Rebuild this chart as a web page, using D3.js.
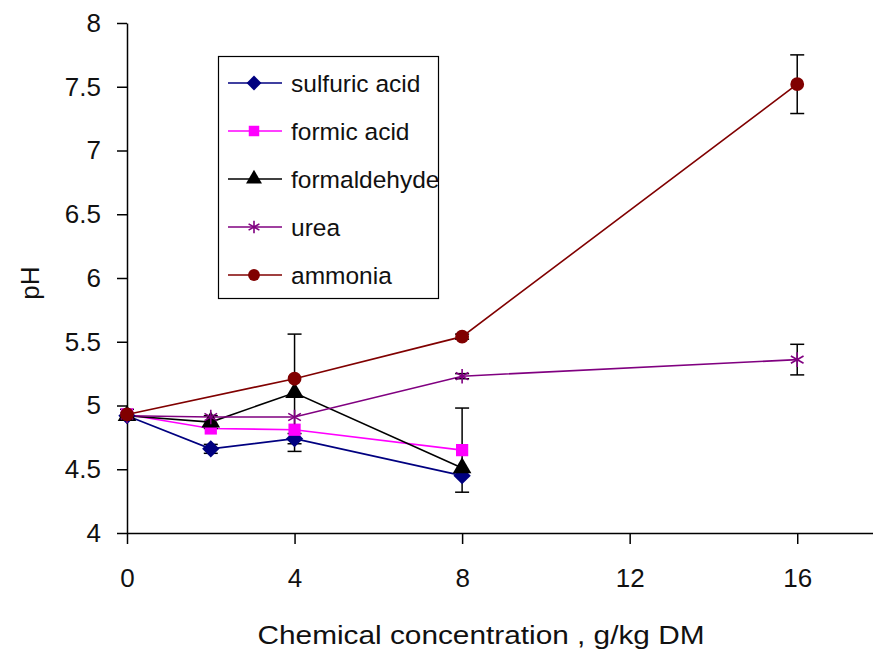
<!DOCTYPE html>
<html>
<head>
<meta charset="utf-8">
<script src="https://cdn.jsdelivr.net/npm/d3@7"></script>
<style>
  body { margin: 0; background: #fff; }
  text { font-family: "Liberation Sans", Arial, sans-serif; fill: #111; }
</style>
</head>
<body>
<svg id="chart" width="873" height="650"></svg>
<script>
// data
var sulfuricX = [0, 2, 4, 8];
var sulfuricY = [4.92, 4.66, 4.74, 4.45];
var sulfuricErr = [0, 0.035, 0.04, 0];

var formicX = [0, 2, 4, 8];
var formicY = [4.93, 4.82, 4.81, 4.65];
var formicErr = [0, 0, 0, 0.33];

var formaldehydeX = [0, 2, 4, 8];
var formaldehydeY = [4.92, 4.87, 5.10, 4.51];
var formaldehydeErr = [0, 0.05, 0.46, 0];

var ureaX = [0, 2, 4, 8, 16];
var ureaY = [4.92, 4.91, 4.91, 5.23, 5.36];
var ureaErr = [0, 0, 0, 0.02, 0.12];

var ammoniaX = [0, 4, 8, 16];
var ammoniaY = [4.93, 5.21, 5.54, 7.52];
var ammoniaErr = [0.04, 0, 0.02, 0.23];

var xTicks = [0, 4, 8, 12, 16];
var yTicks = [4, 4.5, 5, 5.5, 6, 6.5, 7, 7.5, 8];

// rotated square for the excel style diamond
var diamond = {
  draw: function(context, size) {
    var r = Math.sqrt(size / 2);
    context.moveTo(0, -r);
    context.lineTo(r, 0);
    context.lineTo(0, r);
    context.lineTo(-r, 0);
    context.closePath();
  }
};

var series = [
  {name: "sulfuric acid", xs: sulfuricX, ys: sulfuricY, err: sulfuricErr, color: "#000080", symbol: diamond},
  {name: "formic acid", xs: formicX, ys: formicY, err: formicErr, color: "#ff00ff", symbol: d3.symbolSquare},
  {name: "formaldehyde", xs: formaldehydeX, ys: formaldehydeY, err: formaldehydeErr, color: "#000000", symbol: d3.symbolTriangle},
  {name: "urea", xs: ureaX, ys: ureaY, err: ureaErr, color: "#800080", symbol: d3.symbolAsterisk},
  {name: "ammonia", xs: ammoniaX, ys: ammoniaY, err: ammoniaErr, color: "#800000", symbol: d3.symbolCircle}
];

var svg = d3.select("#chart");
var x = d3.scaleLinear().domain([0, 18]).range([127, 881]);
var y = d3.scaleLinear().domain([4, 8]).range([533, 23]);

// axes
var xAxis = svg.append("g").attr("transform", "translate(0,533)")
  .call(d3.axisBottom(x).tickValues(xTicks).tickSize(11).tickPadding(25).tickSizeOuter(0));
var yAxis = svg.append("g").attr("transform", "translate(127,0)")
  .call(d3.axisLeft(y).tickValues(yTicks).tickSize(10).tickPadding(16).tickSizeOuter(0)
    .tickFormat(function(d) { return d; }));
[xAxis, yAxis].forEach(function(a) {
  a.select(".domain").attr("stroke", "#000").attr("stroke-width", 1.5);
  a.selectAll(".tick line").attr("stroke", "#000").attr("stroke-width", 1.5);
  a.selectAll("text").attr("font-size", 26).attr("fill", "#111")
    .attr("font-family", "'Liberation Sans', Arial, sans-serif");
});

svg.append("text").attr("x", 481).attr("y", 644).attr("text-anchor", "middle")
  .attr("font-size", 26).attr("textLength", 447).attr("lengthAdjust", "spacingAndGlyphs")
  .text("Chemical concentration , g/kg DM");
svg.append("text").attr("transform", "translate(39,283) rotate(-90)")
  .attr("text-anchor", "middle").attr("font-size", 26).text("pH");

var line = d3.line()
  .x(function(d) { return x(d[0]); })
  .y(function(d) { return y(d[1]); });

series.forEach(function(s) {
  var pts = s.xs.map(function(v, i) { return [v, s.ys[i], s.err[i]]; });
  svg.append("path")
    .attr("d", line(pts))
    .attr("fill", "none")
    .attr("stroke", s.color)
    .attr("stroke-width", 1.6);
  // error bars
  pts.filter(function(p) { return p[2] > 0; }).forEach(function(p) {
    var g = svg.append("g").attr("stroke", "#000").attr("stroke-width", 1.5);
    g.append("line").attr("x1", x(p[0])).attr("x2", x(p[0]))
      .attr("y1", y(p[1] - p[2])).attr("y2", y(p[1] + p[2]));
    [p[1] - p[2], p[1] + p[2]].forEach(function(v) {
      g.append("line").attr("x1", x(p[0]) - 7).attr("x2", x(p[0]) + 7)
        .attr("y1", y(v)).attr("y2", y(v));
    });
  });
});

function drawMarker(parent, s, size, px, py) {
  var m = parent.append("path")
    .attr("d", d3.symbol().type(s.symbol).size(size)())
    .attr("transform", "translate(" + px + "," + py + ")");
  if (s.symbol === d3.symbolAsterisk) {
    m.attr("fill", "none").attr("stroke", s.color).attr("stroke-width", 1.6);
  } else {
    m.attr("fill", s.color);
  }
}

// markers on top
series.forEach(function(s) {
  s.xs.forEach(function(v, i) {
    drawMarker(svg, s, 150, x(v), y(s.ys[i]));
  });
});

// legend
var legend = svg.append("g");
legend.append("rect").attr("x", 218.5).attr("y", 56.5).attr("width", 220).attr("height", 242)
  .attr("fill", "#fff").attr("stroke", "#000").attr("stroke-width", 1.2);
series.forEach(function(s, i) {
  var ly = 83 + i * 48;
  legend.append("line").attr("x1", 228).attr("x2", 282).attr("y1", ly).attr("y2", ly)
    .attr("stroke", s.color).attr("stroke-width", 1.6);
  drawMarker(legend, s, 110, 254, ly);
  legend.append("text").attr("x", 291).attr("y", ly + 9).attr("font-size", 24.5).text(s.name);
});
</script>
</body>
</html>
